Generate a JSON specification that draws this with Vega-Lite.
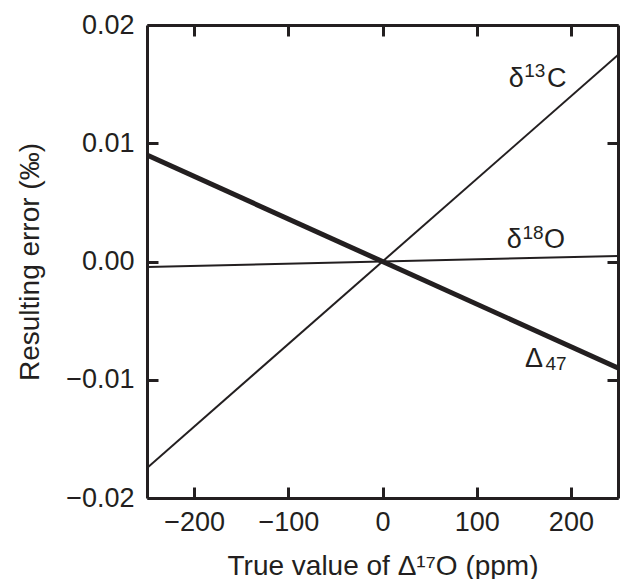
{
  "$schema": "https://vega.github.io/schema/vega-lite/v6.json",
  "width": 471,
  "height": 473,
  "autosize": {"type": "none"},
  "padding": {"left": 147, "top": 25, "right": 9, "bottom": 81},
  "background": "white",
  "config": {
    "view": {"stroke": null},
    "font": "Liberation Sans",
    "axis": {
      "domainColor": "#231f20",
      "domainWidth": 3,
      "tickColor": "#231f20",
      "tickWidth": 3,
      "tickSize": -11,
      "grid": false,
      "labelFont": "Liberation Sans",
      "labelFontSize": 27,
      "labelColor": "#231f20",
      "titleFont": "Liberation Sans",
      "titleFontSize": 28,
      "titleFontWeight": "normal",
      "titleColor": "#231f20"
    }
  },
  "datasets": {
    "lines": [
      {"series": "d13C", "x": -250, "y": -0.01746},
      {"series": "d13C", "x": 250, "y": 0.01746},
      {"series": "d18O", "x": -250, "y": -0.00047},
      {"series": "d18O", "x": 250, "y": 0.00047},
      {"series": "D47", "x": -250, "y": 0.009},
      {"series": "D47", "x": 250, "y": -0.009}
    ],
    "labels": [
      {"text": "δ", "role": "main", "x": 134.0, "y": 0.01476},
      {"text": "13", "role": "script", "x": 150.5, "y": 0.0156},
      {"text": "C", "role": "main", "x": 174.5, "y": 0.01476},
      {"text": "δ", "role": "main", "x": 132.0, "y": 0.00114},
      {"text": "18", "role": "script", "x": 148.5, "y": 0.0019},
      {"text": "O", "role": "main", "x": 171.5, "y": 0.00114},
      {"text": "Δ", "role": "main", "x": 151.3, "y": -0.00892},
      {"text": "47", "role": "script", "x": 173.0, "y": -0.00918}
    ]
  },
  "layer": [
    {
      "data": {"name": "lines"},
      "transform": [{"filter": "datum.series !== 'D47'"}],
      "mark": {"type": "line", "color": "#231f20", "strokeWidth": 2, "clip": true},
      "encoding": {
        "x": {"field": "x", "type": "quantitative", "scale": {"domain": [-250, 250], "nice": false},
          "axis": {"orient": "bottom", "values": [-200, -100, 0, 100, 200], "title": "True value of Δ¹⁷O (ppm)", "labelPadding": 22, "titlePadding": 17}},
        "y": {"field": "y", "type": "quantitative", "scale": {"domain": [-0.02, 0.02], "nice": false},
          "axis": {"orient": "left", "values": [-0.02, -0.01, 0, 0.01, 0.02], "format": ".2f", "title": "Resulting error (‰)", "labelPadding": 24, "titlePadding": 21}},
        "detail": {"field": "series"}
      }
    },
    {
      "data": {"name": "lines"},
      "transform": [{"filter": "datum.series === 'D47'"}],
      "mark": {"type": "line", "color": "#231f20", "strokeWidth": 5, "clip": true},
      "encoding": {
        "x": {"field": "x", "type": "quantitative", "axis": null},
        "y": {"field": "y", "type": "quantitative", "axis": null}
      }
    },
    {
      "data": {"name": "labels"},
      "transform": [{"filter": "datum.role === 'main'"}],
      "mark": {"type": "text", "font": "Liberation Sans", "fontSize": 27, "color": "#231f20", "align": "left", "baseline": "alphabetic"},
      "encoding": {
        "x": {"field": "x", "type": "quantitative", "axis": {"orient": "top", "values": [-200, -100, 0, 100, 200], "labels": false, "title": null}},
        "y": {"field": "y", "type": "quantitative", "axis": {"orient": "right", "values": [-0.02, -0.01, 0, 0.01, 0.02], "labels": false, "title": null}},
        "text": {"field": "text"}
      }
    },
    {
      "data": {"name": "labels"},
      "transform": [{"filter": "datum.role === 'script'"}],
      "mark": {"type": "text", "font": "Liberation Sans", "fontSize": 19, "color": "#231f20", "align": "left", "baseline": "alphabetic"},
      "encoding": {
        "x": {"field": "x", "type": "quantitative", "axis": null},
        "y": {"field": "y", "type": "quantitative", "axis": null},
        "text": {"field": "text"}
      }
    }
  ],
  "resolve": {"axis": {"x": "independent", "y": "independent"}}
}
